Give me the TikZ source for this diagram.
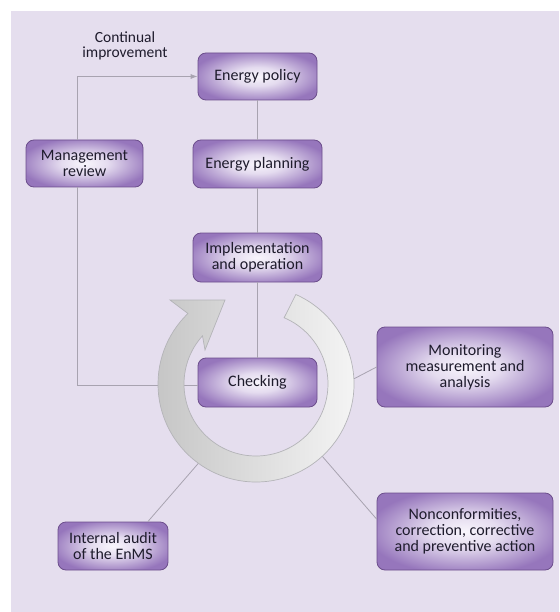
\documentclass[tikz,border=0pt]{standalone}
\usepackage{fontspec}
\setmainfont{Carlito}
\usetikzlibrary{arrows.meta,calc}

\definecolor{pagebg}{RGB}{229,222,238}
\definecolor{boxedge}{RGB}{150,118,188}
\definecolor{boxmid}{RGB}{248,245,252}
\definecolor{boxline}{RGB}{108,78,140}
\definecolor{boxtext}{RGB}{30,27,44}
\definecolor{linkgray}{RGB}{168,163,176}
\definecolor{ringline}{RGB}{180,180,184}

\pgfdeclareradialshading{stageglow}{\pgfpoint{0bp}{0bp}}{color(0bp)=(boxmid);
    color(10bp)=(boxmid!80!boxedge); color(28bp)=(boxedge); color(50bp)=(boxedge)}

\tikzset{
    stage node/.style={rectangle,rounded corners=8pt,draw=boxline,line width=0.8pt,
        shade,shading=stageglow,text=boxtext,
        align=center,inner sep=2pt,font=\fontsize{16}{16}\selectfont},
    link line/.style={draw=linkgray,line width=0.8pt}
    }

\begin{document}
\begin{tikzpicture}[x=1pt,y=-1pt]
    \useasboundingbox (0,0) rectangle (559,612);
    \fill[pagebg] (11,11) rectangle (559,612);
    % The stages
    \node(policy)[stage node,minimum width=119pt,minimum height=47pt] at (257.5,76.5) {Energy policy};
    \node(planning)[stage node,minimum width=129pt,minimum height=48pt] at (257.5,164) {Energy planning};
    \node(implement)[stage node,minimum width=129pt,minimum height=49pt] at (257.5,257.5) {Implementation\\and operation};
    \node(mreview)[stage node,minimum width=117pt,minimum height=47pt] at (84.5,163.5) {Management\\review};
    \node(checking)[stage node,minimum width=119pt,minimum height=49pt] at (257.5,382.5) {Checking};
    \node(monitoring)[stage node,minimum width=176pt,minimum height=80pt] at (465,367) {Monitoring\\measurement and\\analysis};
    \node(nonconf)[stage node,minimum width=176pt,minimum height=77pt] at (465,531.5) {Nonconformities,\\correction, corrective\\and preventive action};
    \node(audit)[stage node,minimum width=110pt,minimum height=48pt] at (113,546) {Internal audit\\of the EnMS};
    \node(improve)[text=boxtext,align=center,font=\fontsize{15.5}{15.5}\selectfont] at (125,46) {Continual\\improvement};

    % Links
    \draw[link line,-{Latex[length=7pt,width=5pt]}] ([xshift=-7.5pt]mreview.north) |- (policy.west);
    \draw[link line] ([xshift=-7.5pt]mreview.south) |- ([yshift=-3pt]checking.west);
    \draw[link line] (policy) -- (planning) -- (implement) -- (checking);

    % The cycle arrow
    \coordinate (ringc) at (256,384);
    \coordinate (monr) at ($(ringc)+(-3:98)$);
    \coordinate (ncr) at ($(ringc)+(47.5:98)$);
    \coordinate (aur) at ($(ringc)+(126:98)$);
    \draw[link line] (monr) -- (monitoring.west);
    \draw[link line] (ncr) -- (nonconf.172);
    \draw[link line] (aur) -- (audit.35);
    \draw[ringline,line width=0.7pt,left color=gray!45!white,right color=gray!6!white]
        ($(ringc)+(-66:98)$) arc[start angle=-66,end angle=226,radius=98]
        -- (170,300) -- (225,300) -- (205,350)
        -- ($(ringc)+(222:72)$) arc[start angle=222,end angle=-67,radius=72] -- cycle;
\end{tikzpicture}
\end{document}
